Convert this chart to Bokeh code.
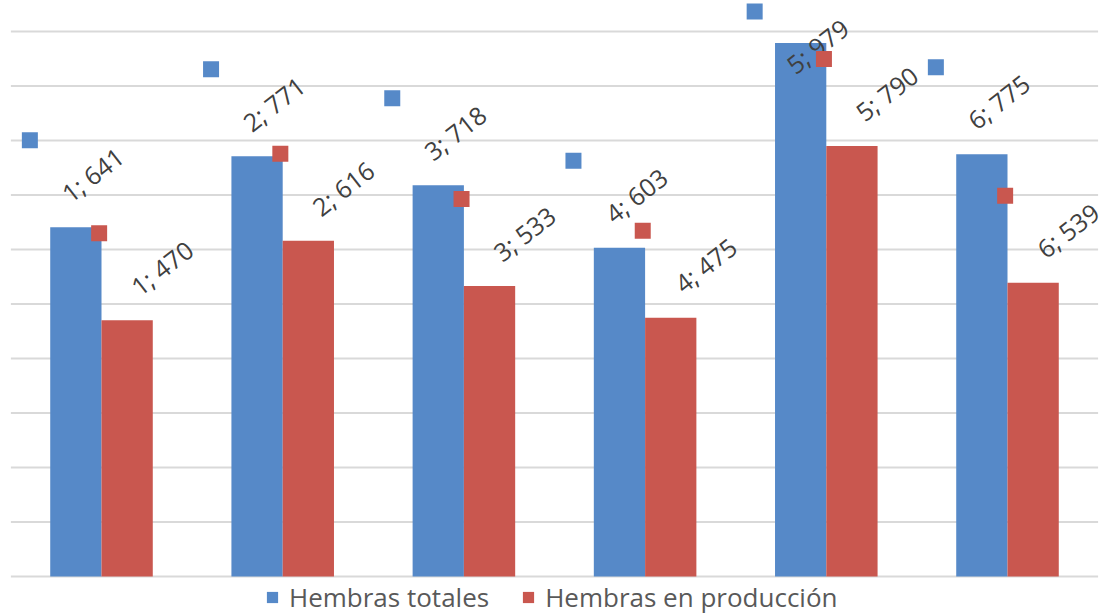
import numpy as np
from bokeh.plotting import figure
from bokeh.models import Legend, LegendItem
from bokeh.core.properties import value
from bokeh.embed import file_html
from bokeh.resources import INLINE

# ---- data ----
groups = [1, 2, 3, 4, 5, 6]
totales = [641, 771, 718, 603, 979, 775]
produccion = [470, 616, 533, 475, 790, 539]
y_ticks = list(range(0, 1001, 100))
series_names = ["Hembras totales", "Hembras en producción"]
series_colors = ["#5689C8", "#C9574F"]

# ---- layout scales (px per data unit) ----
PX_X = 181.2
PX_Y = 0.545
W, H = 1115, 616
x_start = 1 - 101 / PX_X
p = figure(width=W, height=H,
           x_range=(x_start, x_start + W / PX_X),
           y_range=(-(H - 576) / PX_Y, 576 / PX_Y),
           output_backend="svg", toolbar_location=None,
           x_axis_type=None, y_axis_type=None, min_border=0)
p.outline_line_color = None
p.background_fill_color = "white"

# gridlines
p.segment(x0=[0.5] * len(y_ticks), x1=[6.5] * len(y_ticks), y0=y_ticks, y1=y_ticks,
          line_color="#D9D9D9", line_width=2)

g = np.array(groups, dtype=float)
BW = 0.283
renderers = []
label_font = value("Open Sans")
for k, (vals, col, dx_marker) in enumerate([(totales, series_colors[0], -46),
                                             (produccion, series_colors[1], -28)]):
    v = np.array(vals, dtype=float)
    xc = g + (-BW / 2 if k == 0 else BW / 2)
    r = p.vbar(x=xc, top=v, width=BW, fill_color=col, line_color=None)
    renderers.append(r)
    # label key marker (Excel-style), clamped inside chart area
    mx = xc + dx_marker / PX_X
    my = np.minimum(v + 87 / PX_Y, 565 / PX_Y)
    p.scatter(x=mx, y=my, marker="square", size=16, fill_color=col, line_color=None)
    # label text
    tx = mx + 35 / PX_X
    ty = my - 56 / PX_Y
    labels = [f"{a}; {b}" for a, b in zip(groups, vals)]
    p.text(x=tx, y=ty, text=labels, angle=np.deg2rad(38),
           text_font=label_font, text_font_size="25px", text_color="#404040",
           text_align="left", text_baseline="alphabetic")

legend = Legend(items=[LegendItem(label=series_names[0], renderers=[renderers[0]]),
                       LegendItem(label=series_names[1], renderers=[renderers[1]])],
                orientation="horizontal", location=(265, 1))
legend.padding = 0
legend.margin = 0
legend.spacing = 32
legend.glyph_width = 14
legend.glyph_height = 14
legend.label_standoff = 10
legend.label_text_font = "Open Sans"
legend.label_text_font_size = "26px"
legend.label_text_color = "#595959"
legend.border_line_color = None
legend.background_fill_alpha = 0
p.add_layout(legend)

open("out.html", "w").write(file_html(p, INLINE))
